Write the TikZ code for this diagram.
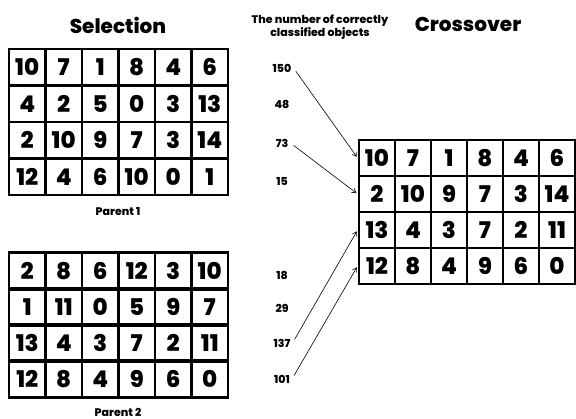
\documentclass[tikz,border=0pt]{standalone}
\usepackage{fontspec}
\setmainfont{Poppins}[BoldFont={Poppins ExtraBold}]
\usetikzlibrary{arrows.meta}
\begin{document}
\begin{tikzpicture}[x=1pt,y=-1pt,
  cell/.style={draw, line width=2.8pt, minimum width=36.5pt, minimum height=36.5pt, inner sep=0pt, font=\fontsize{23}{23}\selectfont\bfseries},
  ccell/.style={cell, minimum width=36pt, minimum height=36pt},
  title/.style={font=\fontsize{20}{22}\selectfont\bfseries},
  small/.style={font=\fontsize{11}{13}\selectfont\bfseries},
  num/.style={font=\fontsize{11}{13}\selectfont\bfseries, inner sep=2pt},
  link/.style={line width=0.6pt, -{Straight Barb[length=4pt,width=5pt]}, shorten <=4pt, shorten >=1.5pt}]
\useasboundingbox (0,0) rectangle (576,419);
% titles
\node[title] (tsel) at (118,25) {Selection};
\node[title] (tcross) at (468,24) {Crossover};
\node[small, align=center] (tnum) at (320,27) {The number of correctly\\classified objects};
% parent 1
\foreach \row [count=\r] in {{10,7,1,8,4,6},{4,2,5,0,3,13},{2,10,9,7,3,14},{12,4,6,10,0,1}} {
  \foreach \v [count=\c] in \row {
    \node[cell] (pa-\r-\c) at ({9+36.5*(\c-0.5)},{49+36.5*(\r-0.5)}) {\v};
  }
}
\node[small] (lp1) at (118,212) {Parent 1};
% parent 2
\foreach \row [count=\r] in {{2,8,6,12,3,10},{1,11,0,5,9,7},{13,4,3,7,2,11},{12,8,4,9,6,0}} {
  \foreach \v [count=\c] in \row {
    \node[cell] (pb-\r-\c) at ({9+36.5*(\c-0.5)},{253+36*(\r-0.5)}) {\v};
  }
}
\node[small] (lp2) at (118,412) {Parent 2};
% crossover
\foreach \row [count=\r] in {{10,7,1,8,4,6},{2,10,9,7,3,14},{13,4,3,7,2,11},{12,8,4,9,6,0}} {
  \foreach \v [count=\c] in \row {
    \node[ccell] (co-\r-\c) at ({359+36*(\c-0.5)},{140+36*(\r-0.5)}) {\v};
  }
}
% fitness numbers
\node[num] (n150) at (282,68) {150};
\node[num] (n48) at (282,104) {48};
\node[num] (n73) at (282,143) {73};
\node[num] (n15) at (282,181) {15};
\node[num] (n18) at (282,275) {18};
\node[num] (n29) at (282,308) {29};
\node[num] (n137) at (282,343) {137};
\node[num] (n101) at (282,379) {101};
% arrows
\draw[link] (n150.east) -- (co-1-1.west);
\draw[link] (n73.east) -- (co-2-1.west);
\draw[link] (n137.east) -- (co-3-1.west);
\draw[link] (n101.east) -- (co-4-1.west);
\end{tikzpicture}
\end{document}
